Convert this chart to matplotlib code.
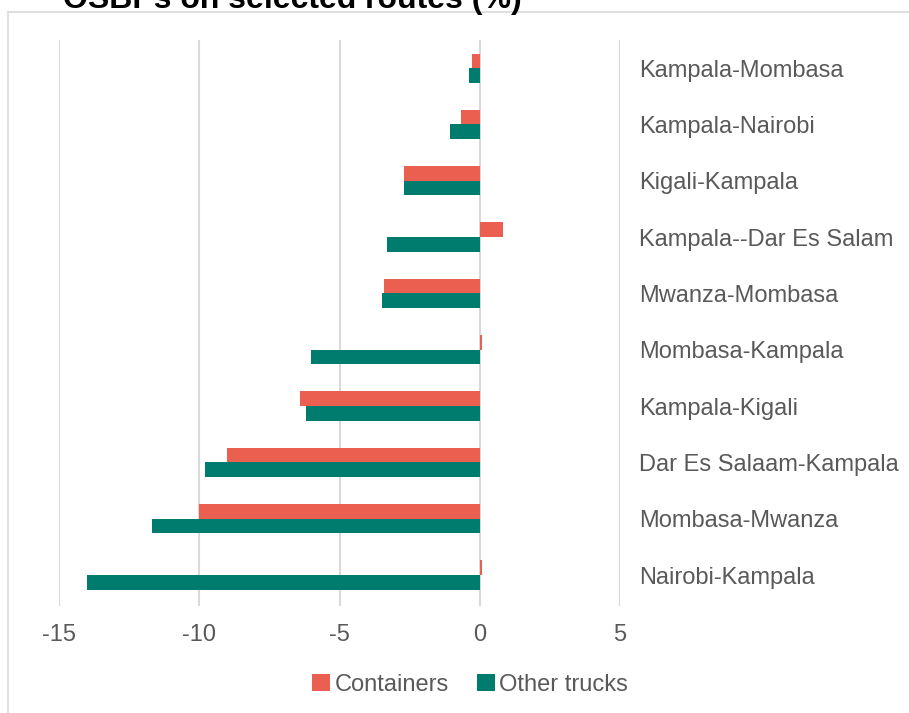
import matplotlib
matplotlib.use("Agg")
import matplotlib.pyplot as plt
from matplotlib.patches import Rectangle
import numpy as np

plt.rcParams['font.family'] = ['Liberation Sans', 'DejaVu Sans']
plt.rcParams['axes.unicode_minus'] = False

routes = ['Kampala-Mombasa', 'Kampala-Nairobi', 'Kigali-Kampala', 'Kampala--Dar Es Salam',
          'Mwanza-Mombasa', 'Mombasa-Kampala', 'Kampala-Kigali', 'Dar Es Salaam-Kampala',
          'Mombasa-Mwanza', 'Nairobi-Kampala']
containers = [-0.26, -0.68, -2.7, 0.82, -3.4, 0.08, -6.4, -9.0, -10.0, 0.08]
other_trucks = [-0.38, -1.07, -2.7, -3.3, -3.5, -6.0, -6.2, -9.8, -11.7, -14.0]

c_red = '#EA5F4F'
c_green = '#007C6E'
grey_txt = '#595959'

fig = plt.figure(figsize=(9.09, 7.13), dpi=100)
ax = fig.add_axes([59/909, 1 - 606/713, 561/909, 566/713])

y = np.arange(len(routes))
h = 0.26
ax.barh(y - h/2, containers, h, color=c_red, label='Containers', zorder=3)
ax.barh(y + h/2, other_trucks, h, color=c_green, label='Other trucks', zorder=3)

ax.set_xlim(-15, 5)
ax.set_ylim(len(routes) - 0.45, -0.5)
ax.set_xticks([-15, -10, -5, 0, 5])
ax.xaxis.grid(True, color='#D9D9D9', lw=1.5, zorder=0)
for s in ax.spines.values():
    s.set_visible(False)

# category names sit on the right, like the excel original
ax.set_yticks(y)
ax.set_yticklabels(routes)
ax.yaxis.tick_right()
ax.tick_params(axis='y', length=0, pad=14, labelsize=17, labelcolor=grey_txt)
ax.tick_params(axis='x', length=0, pad=13, labelsize=17, labelcolor=grey_txt)

fig.legend(loc='center', bbox_to_anchor=(470/909, 1 - 685/713), ncol=2, frameon=False,
           fontsize=17, handlelength=0.75, handleheight=0.75, handletextpad=0.2,
           columnspacing=1.2, labelcolor=grey_txt)

# title is clipped at the top in the original picture
fig.text(63/909, 1 - 8/713, 'OSBPs on selected routes (%)', fontsize=23, fontweight='bold',
         va='baseline', ha='left')

fig.patches.append(Rectangle((8/909, -0.1), 2, 1 - 12/713 + 0.1, transform=fig.transFigure,
                             fill=False, edgecolor='#D9D9D9', lw=1.2))

fig.savefig('out.png', dpi=100)
